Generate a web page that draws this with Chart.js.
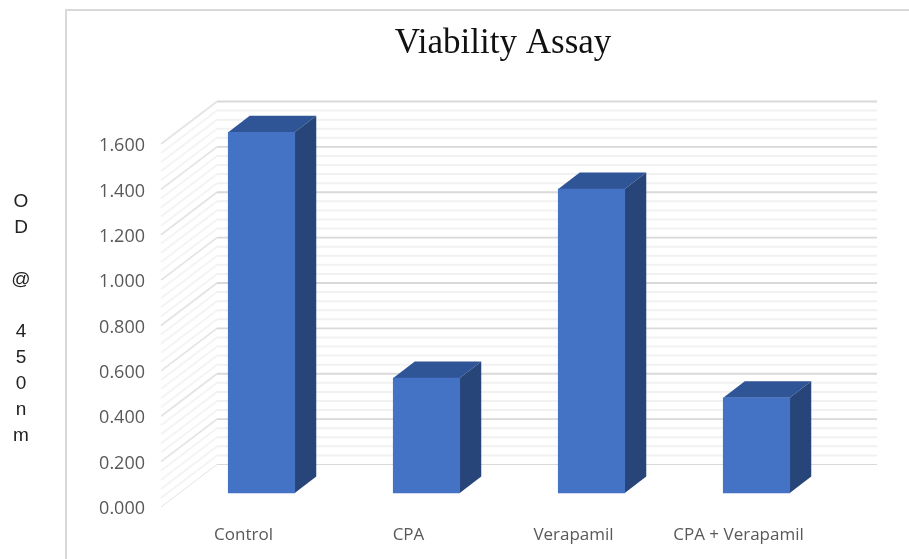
<!DOCTYPE html>
<html>
<head>
<meta charset="utf-8">
<style>html,body{margin:0;padding:0;background:#fff;overflow:hidden}canvas{display:block;filter:blur(0.35px)}</style>
<script src="https://cdn.jsdelivr.net/npm/chart.js@4"></script>
</head>
<body>
<canvas id="c" width="909" height="559"></canvas>
<script>
const categories = ["Control", "CPA", "Verapamil", "CPA + Verapamil"];
const values = [1.59, 0.507, 1.34, 0.42];
const majorTicks = [0, 0.2, 0.4, 0.6, 0.8, 1.0, 1.2, 1.4, 1.6];
const minorStep = 0.04;
const chartTitle = "Viability Assay";
const axisLetters = ["O", "D", "", "@", "", "4", "5", "0", "n", "m"];

const DEPTH = { x: 56, y: -42.5 };
const BAR_SHIFT = { x: 18, y: -14 };
const BAR_DEPTH = { x: 21.5, y: -16.5 };

function drawWalls(chart) {
  const { ctx, chartArea: a } = chart;
  const y = chart.scales.y;
  const line = (v, sideColor, backColor, w) => {
    const py = y.getPixelForValue(v);
    ctx.lineWidth = w;
    ctx.strokeStyle = sideColor;
    ctx.beginPath();
    ctx.moveTo(a.left, py);
    ctx.lineTo(a.left + DEPTH.x, py + DEPTH.y);
    ctx.stroke();
    ctx.strokeStyle = backColor;
    ctx.beginPath();
    ctx.moveTo(a.left + DEPTH.x, py + DEPTH.y);
    ctx.lineTo(a.right + DEPTH.x, py + DEPTH.y);
    ctx.stroke();
  };
  const steps = Math.round(1.6 / minorStep);
  for (let i = 0; i <= steps; i++) {
    if (i % 5) line(i * minorStep, "#f4f4f4", "#f1f1f1", 2);
  }
  majorTicks.forEach((v, i) => line(v, "#e4e4e4", "#d9d9d9", i === 0 ? 1 : 1.8));
}

const scene = {
  id: "scene",
  beforeDraw(chart) {
    const { ctx } = chart;
    ctx.save();
    ctx.fillStyle = "#fff";
    ctx.fillRect(0, 0, chart.width, chart.height);
    ctx.strokeStyle = "#d9d9d9";
    ctx.lineWidth = 2;
    ctx.beginPath();
    ctx.moveTo(66, chart.height);
    ctx.lineTo(66, 10);
    ctx.lineTo(chart.width, 10);
    ctx.stroke();
    ctx.fillStyle = "#222";
    ctx.font = "19px 'Liberation Sans'";
    ctx.textAlign = "center";
    ctx.textBaseline = "middle";
    axisLetters.forEach((t, i) => { if (t) ctx.fillText(t, 21, 202 + i * 26); });
    drawWalls(chart);
    ctx.restore();
  },
  afterLayout(chart) {
    chart.titleBlock.left += 88;
  },
  beforeDatasetsDraw(chart) {
    const { ctx } = chart;
    ctx.save();
    ctx.translate(BAR_SHIFT.x, BAR_SHIFT.y);
    chart.getDatasetMeta(0).data.forEach(bar => {
      const p = bar.getProps(["x", "y", "base", "width"], true);
      const l = p.x - p.width / 2, r = p.x + p.width / 2;
      ctx.fillStyle = "#2f5597";
      ctx.beginPath();
      ctx.moveTo(l, p.y);
      ctx.lineTo(l + BAR_DEPTH.x, p.y + BAR_DEPTH.y);
      ctx.lineTo(r + BAR_DEPTH.x, p.y + BAR_DEPTH.y);
      ctx.lineTo(r, p.y);
      ctx.closePath();
      ctx.fill();
      ctx.fillStyle = "#284579";
      ctx.beginPath();
      ctx.moveTo(r, p.y);
      ctx.lineTo(r + BAR_DEPTH.x, p.y + BAR_DEPTH.y);
      ctx.lineTo(r + BAR_DEPTH.x, p.base + BAR_DEPTH.y);
      ctx.lineTo(r, p.base);
      ctx.closePath();
      ctx.fill();
    });
  },
  afterDatasetsDraw(chart) {
    chart.ctx.restore();
  }
};

new Chart(document.getElementById("c"), {
  type: "bar",
  data: {
    labels: categories,
    datasets: [{
      data: values,
      backgroundColor: "#4472c4",
      borderWidth: 0,
      barThickness: 66.5,
      clip: false
    }]
  },
  plugins: [scene],
  options: {
    responsive: false,
    animation: false,
    layout: { padding: { left: 97, right: 88, top: 0, bottom: 0 } },
    plugins: {
      legend: { display: false },
      tooltip: { enabled: false },
      title: {
        display: true,
        text: chartTitle,
        color: "#111",
        font: { family: "'Liberation Serif'", size: 35, weight: "normal" },
        padding: { top: 23, bottom: 79 }
      }
    },
    scales: {
      x: {
        grid: { display: false },
        border: { display: false },
        ticks: { color: "#595959", font: { family: "'Open Sans'", size: 17 }, padding: 10, maxRotation: 0, autoSkip: false },
        afterFit(s) { s.height = 52; }
      },
      y: {
        min: 0,
        max: 1.6,
        afterBuildTicks(s) { s.ticks = majorTicks.map(value => ({ value })); },
        grid: { display: false, drawTicks: false },
        border: { display: false },
        ticks: { color: "#595959", font: { family: "'Open Sans'", size: 18 }, padding: 16, labelOffset: 2, callback: v => v.toFixed(3) },
        afterFit(s) { s.width = 64; }
      }
    }
  }
});
</script>
</body>
</html>
